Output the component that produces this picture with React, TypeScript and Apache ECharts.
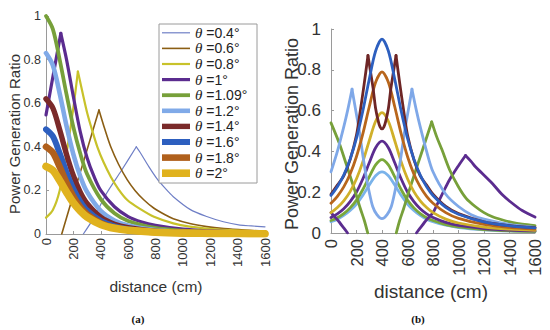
import React, { useEffect, useRef } from "react";
import * as echarts from "echarts";

// ---------- (a) data: [distance (cm), power generation ratio] ----------
const a04Rise = [[273, 0], [350, 0.075], [443, 0.187], [550, 0.29], [660, 0.4]];
const a04Fall = [[660, 0.4], [687, 0.375], [750, 0.31], [809, 0.255], [870, 0.21], [930, 0.171], [1052, 0.113], [1174, 0.08], [1296, 0.056], [1417, 0.041], [1500, 0.037], [1600, 0.033]];
const a06Rise = [[115, 0], [200, 0.18], [278, 0.34], [387, 0.569]];
const a06Fall = [[387, 0.569], [430, 0.48], [473, 0.4], [530, 0.32], [594, 0.248], [650, 0.2], [716, 0.156], [789, 0.118], [870, 0.088], [930, 0.07], [1050, 0.048], [1174, 0.034], [1300, 0.025], [1450, 0.018], [1600, 0.013]];
const a08Rise = [[0, 0.075], [50, 0.11], [100, 0.2], [150, 0.37], [200, 0.58], [233, 0.745]];
const a08Fall = [[233, 0.745], [270, 0.64], [302, 0.553], [340, 0.47], [375, 0.4], [420, 0.33], [473, 0.263], [530, 0.205], [594, 0.156], [687, 0.115], [789, 0.079], [930, 0.049], [1050, 0.034], [1200, 0.024], [1400, 0.016], [1600, 0.011]];
const a10Rise = [[0, 0.546], [50, 0.72], [108, 0.92]];
const a10Fall = [[108, 0.92], [150, 0.8], [200, 0.63], [250, 0.47], [300, 0.35], [350, 0.265], [400, 0.2], [500, 0.125], [600, 0.08], [700, 0.055], [800, 0.04], [1000, 0.022], [1200, 0.014], [1400, 0.009], [1600, 0.006]];
const a109 = [[0, 1], [50, 0.94], [100, 0.8], [150, 0.64], [200, 0.49], [250, 0.37], [300, 0.275], [400, 0.16], [500, 0.095], [600, 0.06], [800, 0.028], [1000, 0.015], [1200, 0.009], [1400, 0.005], [1600, 0.004]];
const a12 = [[0, 0.83], [50, 0.774], [100, 0.645], [150, 0.495], [200, 0.365], [250, 0.265], [300, 0.193], [400, 0.106], [500, 0.062], [600, 0.039], [800, 0.018], [1000, 0.009], [1200, 0.006], [1400, 0.004], [1600, 0.002]];
const a14 = [[0, 0.62], [50, 0.578], [100, 0.478], [150, 0.365], [200, 0.267], [250, 0.192], [300, 0.14], [400, 0.077], [500, 0.045], [600, 0.029], [800, 0.013], [1000, 0.007], [1200, 0.004], [1400, 0.003], [1600, 0.002]];
const a16 = [[0, 0.48], [50, 0.448], [100, 0.37], [150, 0.282], [200, 0.206], [250, 0.149], [300, 0.108], [400, 0.06], [500, 0.035], [600, 0.022], [800, 0.01], [1000, 0.005], [1200, 0.003], [1400, 0.002], [1600, 0.001]];
const a18 = [[0, 0.4], [50, 0.373], [100, 0.308], [150, 0.235], [200, 0.172], [250, 0.124], [300, 0.09], [400, 0.05], [500, 0.029], [600, 0.018], [800, 0.008], [1000, 0.005], [1200, 0.003], [1400, 0.002], [1600, 0.001]];
const a20 = [[0, 0.31], [50, 0.292], [100, 0.245], [150, 0.192], [200, 0.143], [250, 0.106], [300, 0.078], [400, 0.044], [500, 0.026], [600, 0.017], [800, 0.008], [1000, 0.004], [1200, 0.003], [1400, 0.002], [1600, 0.001]];

// ---------- (b) data ----------
const bBlue = [[0, 0.184], [50, 0.227], [100, 0.284], [150, 0.362], [200, 0.465], [250, 0.599], [300, 0.754], [350, 0.892], [400, 0.95], [450, 0.892], [500, 0.754], [550, 0.599], [600, 0.465], [650, 0.362], [700, 0.284], [750, 0.227], [800, 0.184], [900, 0.126], [1000, 0.092], [1200, 0.054], [1400, 0.035], [1600, 0.025]];
const bOrange = [[0, 0.146], [50, 0.18], [100, 0.226], [150, 0.289], [200, 0.375], [250, 0.487], [300, 0.619], [350, 0.739], [400, 0.79], [450, 0.739], [500, 0.619], [550, 0.487], [600, 0.375], [650, 0.289], [700, 0.226], [750, 0.18], [800, 0.146], [900, 0.1], [1000, 0.072], [1200, 0.042], [1400, 0.028], [1600, 0.019]];
const bGold = [[0, 0.1], [50, 0.125], [100, 0.158], [150, 0.203], [200, 0.266], [250, 0.35], [300, 0.452], [350, 0.548], [400, 0.59], [450, 0.548], [500, 0.452], [550, 0.35], [600, 0.266], [650, 0.203], [700, 0.158], [750, 0.125], [800, 0.1], [900, 0.068], [1000, 0.049], [1200, 0.029], [1400, 0.019], [1600, 0.013]];
const bPurpleBell = [[0, 0.076], [50, 0.094], [100, 0.119], [150, 0.154], [200, 0.201], [250, 0.266], [300, 0.344], [350, 0.418], [400, 0.45], [450, 0.418], [500, 0.344], [550, 0.266], [600, 0.201], [650, 0.154], [700, 0.119], [750, 0.094], [800, 0.076], [900, 0.052], [1000, 0.037], [1200, 0.022], [1400, 0.014], [1600, 0.01]];
const bGreenBell = [[0, 0.061], [50, 0.075], [100, 0.095], [150, 0.123], [200, 0.161], [250, 0.213], [300, 0.275], [350, 0.334], [400, 0.36], [450, 0.334], [500, 0.275], [550, 0.213], [600, 0.161], [650, 0.123], [700, 0.095], [750, 0.075], [800, 0.061], [900, 0.041], [1000, 0.03], [1200, 0.017], [1400, 0.011], [1600, 0.008]];
const bSkyBell = [[0, 0.055], [50, 0.068], [100, 0.086], [150, 0.11], [200, 0.142], [250, 0.185], [300, 0.235], [350, 0.281], [400, 0.3], [450, 0.281], [500, 0.235], [550, 0.185], [600, 0.142], [650, 0.11], [700, 0.086], [750, 0.068], [800, 0.055], [900, 0.038], [1000, 0.027], [1200, 0.016], [1400, 0.01], [1600, 0.007]];
const bRedLeft = [[0, 0.19], [50, 0.235], [100, 0.28], [150, 0.36], [200, 0.48], [230, 0.6], [260, 0.73], [290, 0.87]];
const bRedMid = [[290, 0.87], [310, 0.79], [330, 0.71], [350, 0.61], [370, 0.55], [385, 0.52], [400, 0.51], [415, 0.52], [430, 0.55], [450, 0.61], [470, 0.71], [490, 0.79], [510, 0.87]];
const bRedRight = [[510, 0.87], [540, 0.73], [570, 0.6], [600, 0.48], [650, 0.36], [700, 0.28], [750, 0.235], [800, 0.19], [900, 0.13], [1000, 0.095], [1200, 0.055], [1400, 0.036], [1600, 0.026]];
const bSkyLeft = [[0, 0.3], [50, 0.4], [100, 0.52], [130, 0.6], [165, 0.705]];
const bSkyMid = [[165, 0.705], [200, 0.58], [222, 0.5], [250, 0.38], [275, 0.28], [300, 0.2], [327, 0.13], [360, 0.09], [400, 0.07], [440, 0.09], [473, 0.13], [500, 0.2], [525, 0.28], [550, 0.38], [578, 0.5], [600, 0.58], [635, 0.705]];
const bSkyRight = [[635, 0.705], [670, 0.6], [700, 0.52], [750, 0.4], [800, 0.3], [900, 0.19], [1000, 0.13], [1100, 0.09], [1200, 0.068], [1400, 0.042], [1600, 0.028]];
const bGreenLeft = [[0, 0.54], [65, 0.44], [118, 0.34], [160, 0.26], [196, 0.19], [230, 0.12], [262, 0.06], [288, 0]];
const bGreenRise = [[512, 0], [538, 0.06], [570, 0.12], [604, 0.19], [640, 0.26], [682, 0.34], [735, 0.44], [790, 0.545]];
const bGreenFall = [[790, 0.545], [830, 0.47], [869, 0.41], [930, 0.31], [998, 0.228], [1060, 0.17], [1131, 0.13], [1200, 0.1], [1262, 0.081], [1340, 0.065], [1419, 0.052], [1500, 0.043], [1600, 0.036]];
const bPurpleLeft = [[0, 0.1], [50, 0.065], [100, 0.025], [130, 0]];
const bPurpleRise = [[670, 0], [700, 0.025], [750, 0.065], [800, 0.1], [825, 0.13], [880, 0.2], [929, 0.26], [1000, 0.33], [1055, 0.38]];
const bPurpleFall = [[1055, 0.38], [1100, 0.35], [1131, 0.326], [1183, 0.294], [1262, 0.245], [1340, 0.19], [1419, 0.147], [1500, 0.11], [1600, 0.078]];

// ---------- labels ----------
const legendNames = ["θ =0.4°", "θ =0.6°", "θ =0.8°", "θ =1°", "θ =1.09°", "θ =1.2°", "θ =1.4°", "θ =1.6°", "θ =1.8°", "θ =2°"];
const legendColors = ["#6f7fc6", "#8b5e14", "#c8c22a", "#5b2c8f", "#77a03a", "#80aae8", "#7a2a2a", "#2d5fbf", "#b0601c", "#e0b21e"];
const legendWidths = [1.2, 1.6, 2.2, 3.2, 3.8, 4.6, 5.4, 6, 6.6, 7.6];
const yTitle = "Power Generation Ratio";
const xTitle = "distance (cm)";

const SANS = "'Liberation Sans', Arial, sans-serif";
const SERIF = "'Liberation Serif', serif";

export default function App() {
  const ref = useRef<HTMLDivElement>(null);
  useEffect(() => {
    if (!ref.current) return;
    const chart = echarts.init(ref.current, null, { renderer: "svg" });

    const line = (name: string, idx: number, data: number[][], color: string, width: number, smooth = 0.3) => ({
      type: "line",
      name,
      xAxisIndex: idx,
      yAxisIndex: idx,
      data,
      symbol: "none",
      showSymbol: false,
      smooth,
      lineStyle: { color, width, cap: "round", join: "round" },
      itemStyle: { color },
      emphasis: { disabled: true },
    });

    const aSegs: number[][][][] = [
      [a04Rise, a04Fall],
      [a06Rise, a06Fall],
      [a08Rise, a08Fall],
      [a10Rise, a10Fall],
      [a109],
      [a12],
      [a14],
      [a16],
      [a18],
      [a20],
    ];
    const series: any[] = [];
    aSegs.forEach((segs, i) => {
      segs.forEach((d) => series.push(line(legendNames[i], 0, d, legendColors[i], legendWidths[i])));
    });

    const bw = 2.8;
    const bList: [string, number[][], string][] = [
      ["b-sky-bell", bSkyBell, "#7ab3ea"],
      ["b-green-bell", bGreenBell, "#7aa83a"],
      ["b-purple-bell", bPurpleBell, "#5b2c8f"],
      ["b-purple", bPurpleLeft, "#5b2c8f"],
      ["b-purple", bPurpleRise, "#5b2c8f"],
      ["b-purple", bPurpleFall, "#5b2c8f"],
      ["b-green", bGreenLeft, "#77a03a"],
      ["b-green", bGreenRise, "#77a03a"],
      ["b-green", bGreenFall, "#77a03a"],
      ["b-gold", bGold, "#d0b02a"],
      ["b-sky", bSkyLeft, "#7fa8e8"],
      ["b-sky", bSkyMid, "#7fa8e8"],
      ["b-sky", bSkyRight, "#7fa8e8"],
      ["b-orange", bOrange, "#b8661c"],
      ["b-red", bRedLeft, "#6e2626"],
      ["b-red", bRedMid, "#6e2626"],
      ["b-red", bRedRight, "#6e2626"],
      ["b-blue", bBlue, "#2d5fbf"],
    ];
    bList.forEach(([n, d, c]) => series.push(line(n, 1, d, c, bw)));

    const axisCommon = {
      type: "value",
      splitLine: { show: false },
      axisLine: { show: true, lineStyle: { color: "#9a9a9a", width: 1 } },
      axisTick: { show: true, inside: true, length: 3, lineStyle: { color: "#9a9a9a" } },
    };
    const plain = (v: number) => String(v);

    // legend drawn as graphic elements (box, line samples, rich texts)
    const lgX = 159, lgY = 24, lgW = 98, lgH = 159, step = 15.6;
    const legendGraphics: any[] = [
      { type: "rect", shape: { x: lgX, y: lgY, width: lgW, height: lgH }, style: { fill: "#ffffff", stroke: "#9a9a9a", lineWidth: 1 }, z: 10 },
    ];
    legendNames.forEach((n, i) => {
      const cy = lgY + 8.8 + i * step;
      legendGraphics.push({
        type: "line",
        shape: { x1: lgX + 3, y1: cy, x2: lgX + 31, y2: cy },
        style: { stroke: legendColors[i], lineWidth: legendWidths[i], lineCap: "butt" },
        z: 11,
      });
      legendGraphics.push({
        type: "text",
        x: lgX + 36,
        y: cy,
        z: 11,
        style: {
          text: n.replace("θ", "{t|θ}"),
          fontSize: 14,
          fontFamily: SANS,
          fill: "#222",
          textVerticalAlign: "middle",
          rich: { t: { fontStyle: "italic", fontFamily: SERIF, fontSize: 15, fill: "#222" } },
        },
      });
    });

    chart.setOption({
      animation: false,
      backgroundColor: "#ffffff",
      grid: [
        { left: 46, top: 16, width: 219, height: 218 },
        { left: 331, top: 29, width: 204, height: 204 },
      ],
      xAxis: [
        {
          ...axisCommon,
          gridIndex: 0,
          min: 0,
          max: 1600,
          interval: 200,
          axisLabel: { rotate: 90, fontSize: 13, color: "#333", margin: 4, fontFamily: SANS, formatter: plain },
        },
        {
          ...axisCommon,
          gridIndex: 1,
          min: 0,
          max: 1600,
          interval: 200,
          axisLabel: { rotate: 90, fontSize: 16.5, color: "#333", margin: 6, fontFamily: SANS, formatter: plain },
        },
      ],
      yAxis: [
        {
          ...axisCommon,
          gridIndex: 0,
          min: 0,
          max: 1,
          interval: 0.2,
          axisLabel: { fontSize: 12.5, color: "#333", margin: 5, fontFamily: SANS, formatter: plain },
        },
        {
          ...axisCommon,
          gridIndex: 1,
          min: 0,
          max: 1,
          interval: 0.2,
          axisLabel: { fontSize: 17, color: "#333", margin: 10, fontFamily: SANS, formatter: plain },
        },
      ],
      graphic: [
        { type: "text", x: 14, y: 134, rotation: Math.PI / 2, style: { text: yTitle, fontSize: 15, fontFamily: SANS, fill: "#333", textAlign: "center", textVerticalAlign: "middle" } },
        { type: "text", x: 292, y: 134, rotation: Math.PI / 2, style: { text: yTitle, fontSize: 18, fontFamily: SANS, fill: "#333", textAlign: "center", textVerticalAlign: "middle" } },
        { type: "text", x: 156, y: 286, style: { text: xTitle, fontSize: 15.5, fontFamily: SANS, fill: "#333", textAlign: "center", textVerticalAlign: "middle" } },
        { type: "text", x: 431, y: 291, style: { text: xTitle, fontSize: 19, fontFamily: SANS, fill: "#333", textAlign: "center", textVerticalAlign: "middle" } },
        { type: "text", x: 138, y: 319, style: { text: "(a)", fontSize: 11, fontWeight: "bold", fontFamily: SERIF, fill: "#111", textAlign: "center", textVerticalAlign: "middle" } },
        { type: "text", x: 418, y: 319, style: { text: "(b)", fontSize: 11, fontWeight: "bold", fontFamily: SERIF, fill: "#111", textAlign: "center", textVerticalAlign: "middle" } },
        ...legendGraphics,
      ],
      series,
    });
    return () => chart.dispose();
  }, []);
  return <div ref={ref} style={{ width: 550, height: 330, position: "absolute", left: 0, top: 0 }} />;
}
